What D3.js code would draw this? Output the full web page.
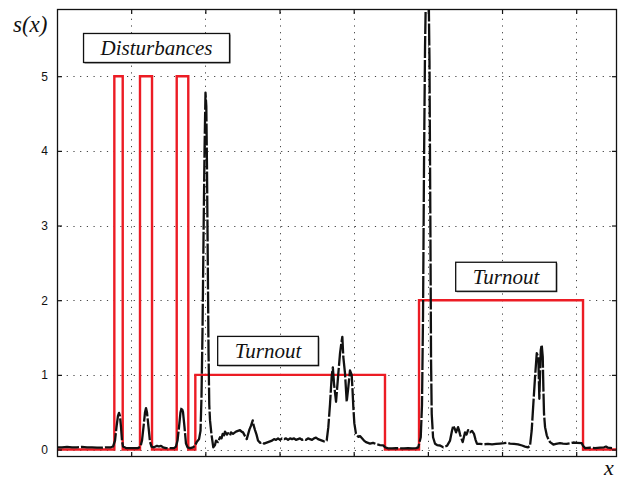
<!DOCTYPE html>
<html>
<head>
<meta charset="utf-8">
<script src="https://cdn.jsdelivr.net/npm/d3@7"></script>
<style>
  html, body { margin: 0; padding: 0; background: #fff; }
  svg { display: block; }
</style>
</head>
<body>
<svg id="chart" width="623" height="481"></svg>
<script>
// Reference profile: step levels for disturbances and turnouts
const stepX = [0, 0.773, 0.886, 1.119, 1.281, 1.614, 1.770, 1.865, 4.422, 4.881, 7.092, 7.55];
const stepS = [0, 5, 0, 5, 0, 5, 0, 1, 0, 2, 0, 0];

// Measured signal s(x)
const sigX = [
  0, 0.067, 0.135, 0.202, 0.270, 0.337, 0.404, 0.472, 0.539, 0.607, 0.674, 0.728, 0.755,
  0.782, 0.802, 0.822, 0.836, 0.849, 0.863, 0.876, 0.890, 0.930, 0.984, 1.038, 1.092,
  1.126, 1.146, 1.166, 1.187, 1.200, 1.213, 1.234, 1.254, 1.274, 1.308, 1.348, 1.375,
  1.402, 1.429, 1.470, 1.524, 1.578, 1.604, 1.625, 1.645, 1.665, 1.681, 1.699, 1.719,
  1.739, 1.760, 1.793, 1.834, 1.861, 1.884, 1.915, 1.935, 1.948, 1.962, 1.975, 1.989,
  2.002, 2.013, 2.022, 2.033, 2.043, 2.053, 2.063, 2.083, 2.107, 2.130, 2.144, 2.171,
  2.198, 2.218, 2.234, 2.252, 2.265, 2.292, 2.306, 2.333, 2.346, 2.373, 2.386, 2.413,
  2.440, 2.467, 2.488, 2.508, 2.535, 2.558, 2.575, 2.595, 2.616, 2.639, 2.649, 2.670,
  2.690, 2.710, 2.737, 2.764, 2.791, 2.818, 2.845, 2.872, 2.899, 2.926, 2.953, 2.980,
  3.007, 3.034, 3.061, 3.088, 3.115, 3.142, 3.169, 3.196, 3.222, 3.249, 3.276, 3.303,
  3.330, 3.357, 3.384, 3.411, 3.438, 3.465, 3.492, 3.519, 3.546, 3.573, 3.600,
  3.636, 3.658, 3.681, 3.704, 3.719, 3.735, 3.762, 3.793, 3.816, 3.833, 3.847, 3.860,
  3.883, 3.906, 3.928, 3.950, 3.973, 3.984, 3.995, 4.009, 4.031, 4.062, 4.085, 4.112,
  4.139, 4.166, 4.193, 4.220, 4.261, 4.311, 4.355, 4.400, 4.422, 4.463, 4.517, 4.571,
  4.625, 4.679, 4.733, 4.786, 4.840, 4.871, 4.904, 4.921, 4.935, 4.948, 4.962, 4.975,
  4.993, 5.009, 5.022, 5.033, 5.043, 5.052, 5.070, 5.097, 5.124, 5.164, 5.208, 5.258,
  5.299, 5.326, 5.343, 5.362, 5.380, 5.407, 5.420, 5.434, 5.470, 5.501, 5.521, 5.542,
  5.568, 5.595, 5.622, 5.643, 5.663, 5.703, 5.757, 5.811, 5.865, 5.919, 5.973, 6.027,
  6.067, 6.108, 6.162, 6.216, 6.270, 6.310, 6.350, 6.377, 6.400, 6.422, 6.445, 6.468,
  6.489, 6.503, 6.522, 6.535, 6.549, 6.557, 6.566, 6.580, 6.603, 6.624, 6.647, 6.692,
  6.728, 6.782, 6.822, 6.872, 6.917, 6.961, 7.011, 7.075, 7.092, 7.119, 7.186, 7.254,
  7.321, 7.375, 7.402, 7.429, 7.483
];
const sigS = [
  0.03, 0.03, 0.035, 0.03, 0.03, 0.035, 0.03, 0.03, 0.025, 0.025, 0.03, 0.03, 0.04,
  0.12, 0.30, 0.45, 0.49, 0.45, 0.30, 0.12, 0.04, 0.02, 0.02, 0.02, 0.02,
  0.04, 0.12, 0.30, 0.50, 0.555, 0.50, 0.30, 0.10, 0.04, 0.03, 0.05, 0.04,
  0.05, 0.03, 0.02, 0.02, 0.02, 0.04, 0.12, 0.30, 0.50, 0.56, 0.50, 0.30,
  0.08, 0.03, 0.02, 0.03, 0.05, 0.10, 0.14, 0.25, 0.70, 1.60, 2.80, 4.00,
  4.78, 4.60, 3.80, 2.50, 1.30, 0.60, 0.39, 0.20, 0.03, 0.06, 0.12, 0.10,
  0.165, 0.15, 0.21, 0.19, 0.24, 0.20, 0.22, 0.19, 0.23, 0.21, 0.22, 0.24,
  0.25, 0.26, 0.24, 0.23, 0.18, 0.14, 0.20, 0.27, 0.32, 0.39, 0.33, 0.26,
  0.20, 0.12, 0.09, 0.10, 0.08, 0.09, 0.10, 0.11, 0.12, 0.14, 0.13, 0.15,
  0.13, 0.15, 0.14, 0.15, 0.13, 0.15, 0.14, 0.15, 0.13, 0.14, 0.15, 0.13,
  0.14, 0.13, 0.15, 0.14, 0.13, 0.15, 0.16, 0.14, 0.13, 0.12, 0.11,
  0.12, 0.30, 0.61, 0.99, 1.10, 0.88, 0.64, 1.02, 1.29, 1.42, 1.51, 1.24,
  1.02, 0.64, 0.84, 1.06, 1.00, 0.80, 0.57, 0.35, 0.21, 0.17, 0.18, 0.15,
  0.12, 0.10, 0.09, 0.08, 0.09, 0.07, 0.06, 0.055, 0.03, 0.015, 0.015, 0.02,
  0.015, 0.015, 0.02, 0.015, 0.02, 0.03, 0.165, 0.60, 1.80, 3.80, 5.40, 6.20,
  6.60, 6.30, 5.20, 3.20, 1.20, 0.48, 0.165, 0.077, 0.06, 0.054, 0.03, 0.05,
  0.12, 0.255, 0.32, 0.28, 0.23, 0.30, 0.26, 0.20, 0.10, 0.23, 0.20, 0.26,
  0.23, 0.25, 0.21, 0.13, 0.077, 0.077, 0.07, 0.075, 0.07, 0.075, 0.08, 0.085,
  0.09, 0.08, 0.075, 0.07, 0.054, 0.04, 0.03, 0.05, 0.255, 0.61, 0.97, 1.29,
  1.24, 0.68, 1.33, 1.40, 1.24, 0.84, 0.48, 0.30, 0.19, 0.14, 0.10, 0.067,
  0.075, 0.085, 0.08, 0.077, 0.085, 0.094, 0.09, 0.085, 0.05, 0.02, 0.025, 0.02,
  0.025, 0.03, 0.04, 0.025, 0.02
];

const yTicks = [0, 1, 2, 3, 4, 5];
const xTicks = [1, 2, 3, 4, 5, 6, 7];

// Boxed annotations: label and box centre in data coordinates
const noteText = ["Disturbances", "Turnout", "Turnout"];
const noteX = [1.342, 2.845, 6.054];
const noteY = [5.378, 1.321, 2.314];

const svg = d3.select("#chart");
const W = 623, H = 481;
const plot = { left: 57, top: 9, right: 617, bottom: 457 };

const x = d3.scaleLinear().domain([0, 7.55]).range([plot.left, plot.right]);
const y = d3.scaleLinear().domain([-0.1, 5.9]).range([plot.bottom, plot.top]);

svg.append("rect").attr("width", W).attr("height", H).attr("fill", "#fff");

svg.append("defs").append("clipPath").attr("id", "plotClip")
  .append("rect")
  .attr("x", plot.left).attr("y", plot.top)
  .attr("width", plot.right - plot.left).attr("height", plot.bottom - plot.top);

// dotted grid
const grid = svg.append("g").attr("stroke", "#444").attr("stroke-width", 1)
  .attr("stroke-dasharray", "1.2,5.5").attr("fill", "none");
grid.selectAll("line.gy").data(yTicks).join("line").attr("class", "gy")
  .attr("x1", plot.left + 3).attr("x2", plot.right)
  .attr("y1", d => Math.round(y(d)) + 0.5).attr("y2", d => Math.round(y(d)) + 0.5);
grid.selectAll("line.gx").data(xTicks).join("line").attr("class", "gx")
  .attr("y1", plot.top + 3).attr("y2", plot.bottom)
  .attr("x1", d => Math.round(x(d)) + 0.5).attr("x2", d => Math.round(x(d)) + 0.5);

// curves
const data = sigX.map((v, i) => [v, sigS[i]]);
const steps = stepX.map((v, i) => [v, stepS[i]]);
const curves = svg.append("g").attr("clip-path", "url(#plotClip)");

curves.append("path")
  .datum(steps)
  .attr("fill", "none")
  .attr("stroke", "#ec1c24")
  .attr("stroke-width", 2.4)
  .attr("stroke-linejoin", "miter")
  .attr("d", d3.line().x(d => x(d[0])).y(d => y(d[1])).curve(d3.curveStepAfter));

curves.append("path")
  .datum(data)
  .attr("fill", "none")
  .attr("stroke", "#111")
  .attr("stroke-width", 2.3)
  .attr("stroke-dasharray", "22,2")
  .attr("stroke-linejoin", "round")
  .attr("d", d3.line().x(d => x(d[0])).y(d => y(d[1])));

// frame with inward ticks on all four sides
const axisG = svg.append("g");
const tickLen = 5;
axisG.append("rect")
  .attr("x", plot.left + 0.5).attr("y", plot.top + 0.5)
  .attr("width", plot.right - plot.left - 1).attr("height", plot.bottom - plot.top - 1)
  .attr("fill", "none").attr("stroke", "#111").attr("stroke-width", 1.3);

const yAxisL = d3.axisLeft(y).tickValues(yTicks).tickSize(-tickLen).tickPadding(9).tickFormat(d3.format("d"));
const yAxisR = d3.axisRight(y).tickValues(yTicks).tickSize(-tickLen).tickFormat("");
const xAxisB = d3.axisBottom(x).tickValues(xTicks).tickSize(-tickLen).tickFormat("");
const xAxisT = d3.axisTop(x).tickValues(xTicks).tickSize(-tickLen).tickFormat("");

function styleAxis(g) {
  g.select(".domain").remove();
  g.selectAll(".tick line").attr("stroke", "#111").attr("stroke-width", 1.2);
  g.selectAll(".tick text").attr("fill", "#111")
    .style("font-family", "'Liberation Sans', Arial, sans-serif").style("font-size", "12px");
}
axisG.append("g").attr("transform", `translate(${plot.left},0)`).call(yAxisL).call(styleAxis);
axisG.append("g").attr("transform", `translate(${plot.right},0)`).call(yAxisR).call(styleAxis);
axisG.append("g").attr("transform", `translate(0,${plot.bottom})`).call(xAxisB).call(styleAxis);
axisG.append("g").attr("transform", `translate(0,${plot.top})`).call(xAxisT).call(styleAxis);

// axis titles
const serif = "'Liberation Serif', 'Times New Roman', serif";
svg.append("text").attr("x", 13).attr("y", 32)
  .style("font-family", serif).style("font-style", "italic").style("font-size", "23px")
  .attr("fill", "#111").text("s(x)");
svg.append("text").attr("x", 604).attr("y", 475)
  .style("font-family", serif).style("font-style", "italic").style("font-size", "22px")
  .attr("fill", "#111").text("x");

// boxed annotations
const notes = svg.append("g");
noteText.forEach((t, i) => {
  const g = notes.append("g");
  const cx = x(noteX[i]), cy = y(noteY[i]);
  const txt = g.append("text")
    .attr("x", cx).attr("y", cy + 7.3)
    .attr("text-anchor", "middle")
    .style("font-family", serif).style("font-style", "italic").style("font-size", "21px")
    .attr("fill", "#111").text(t);
  const bb = txt.node().getBBox();
  const padX = 16.5, w = bb.width + 2 * padX, h = 29;
  const bx = cx - w / 2, by = cy - h / 2;
  g.insert("rect", "text")
    .attr("x", bx + 1).attr("y", by + 1).attr("width", w).attr("height", h)
    .attr("fill", "#555");
  g.insert("rect", "text")
    .attr("x", bx).attr("y", by).attr("width", w).attr("height", h)
    .attr("fill", "#fff").attr("stroke", "#111").attr("stroke-width", 1.3);
});
</script>
</body>
</html>
